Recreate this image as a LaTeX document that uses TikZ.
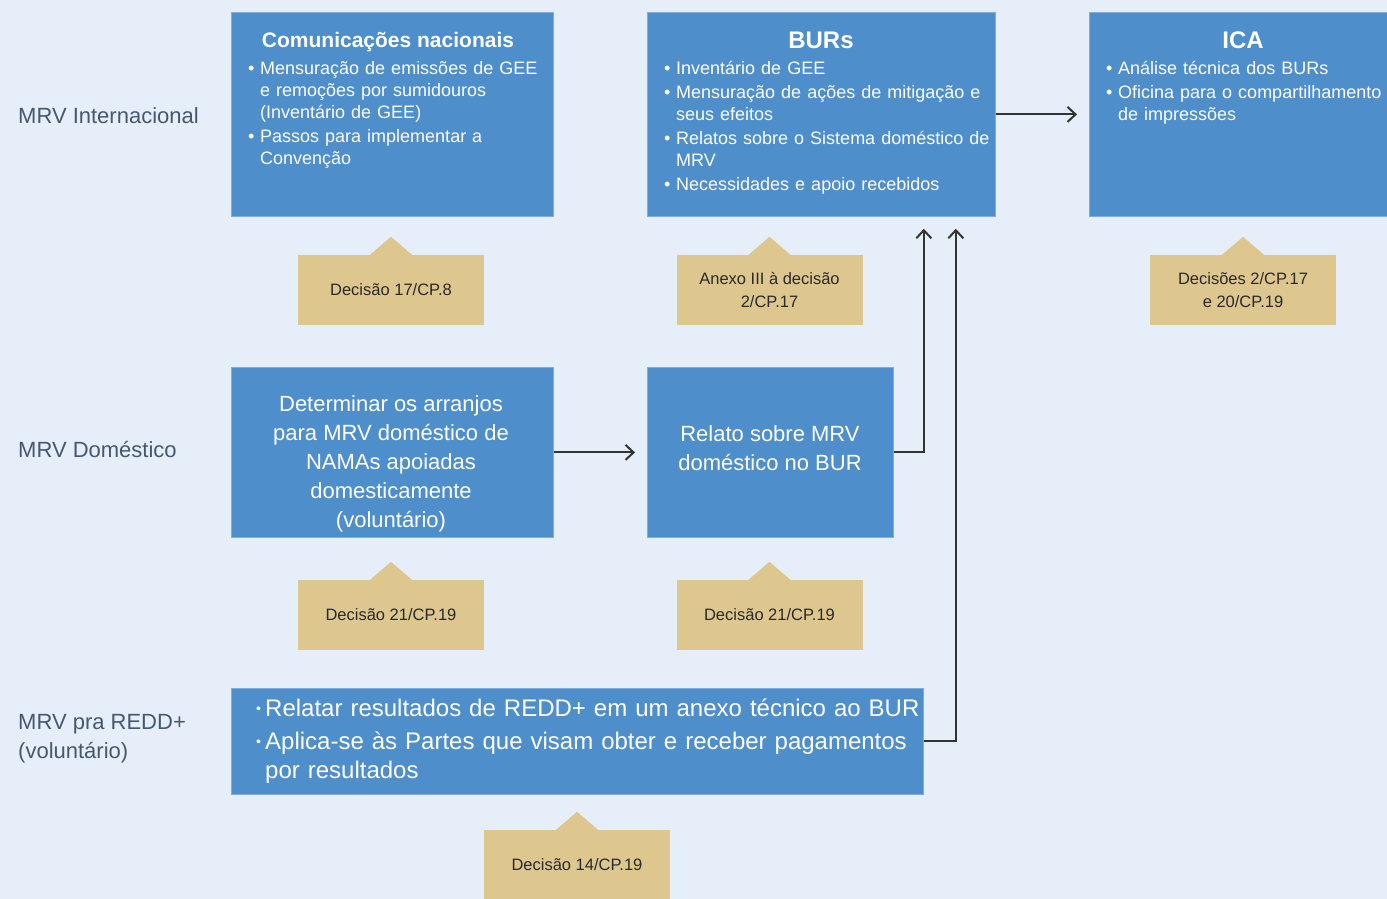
\documentclass[tikz,border=0pt]{standalone}
\usepackage{fontspec}
\setmainfont{Liberation Sans}
\usepackage{xcolor}
\usetikzlibrary{positioning,calc,arrows.meta}

\definecolor{bgblue}{HTML}{E6EFF9}
\definecolor{boxblue}{HTML}{4E8FCB}
\definecolor{boxedge}{HTML}{7FAEDD}
\definecolor{tagtan}{HTML}{DEC78F}
\definecolor{tagtext}{HTML}{2A2A2A}
\definecolor{lblcol}{HTML}{44586F}
\definecolor{linecol}{HTML}{333333}

% bullet item with hanging indent: width, bullet, text
\newcommand{\mkitem}[3]{\par\hangindent=#1\hangafter=1\noindent\makebox[#1][l]{#2}#3\par}
\newcommand{\itm}[1]{\mkitem{12pt}{\textbullet}{#1}}
\newcommand{\sitm}[1]{\mkitem{9pt}{\raisebox{0.25ex}{\fontsize{14}{14}\selectfont\textbullet}}{#1}}

\begin{document}
\begin{tikzpicture}[
    x=1pt,
    y=-1pt,
    >={Straight Barb[length=8pt,width=15pt]},
    box/.style={fill=boxblue, draw=boxedge, line width=0.8pt, inner sep=0pt, anchor=north west},
    title/.style={text=white, anchor=base, inner sep=0pt, font=\bfseries\fontsize{24}{28}\selectfont},
    bullets/.style={text=white, align=left, inner sep=0pt, anchor=north west,
        font=\fontsize{18}{22}\selectfont\setlength{\parskip}{2pt}},
    boxtext/.style={text=white, align=center, inner sep=0pt, font=\fontsize{22}{29}\selectfont},
    dectag/.style={fill=tagtan, minimum width=186pt, minimum height=70pt, inner sep=2pt,
        align=center, text=tagtext, font=\fontsize{16.5}{23}\selectfont},
    rowlabel/.style={align=left, inner sep=0pt, text=lblcol, font=\fontsize{22}{29}\selectfont},
    link/.style={->, line width=2pt, draw=linecol, shorten >=12pt}
]

% Page and background
\useasboundingbox (0,0) rectangle (1387,899);
\fill[bgblue] (0,0) rectangle (1387,899);

% Row labels
\node[rowlabel, anchor=west] (lint) at (18,116) {MRV Internacional};
\node[rowlabel, anchor=west] (ldom) at (18,450) {MRV Doméstico};
\node[rowlabel, anchor=north west] (lredd) at (18,714) {MRV pra REDD+\\(voluntário)};

% Row 1: international MRV
\node[box, minimum width=322pt, minimum height=204pt] (com) at (231,12) {};
\node[title, font=\bfseries\fontsize{21}{24}\selectfont] (comtitle) at (388,48) {Comunicações nacionais};
\node[bullets, text width=300pt] (comlist) at (248,50) {%
    \itm{Mensuração de emissões de GEE\newline e remoções por sumidouros\newline (Inventário de GEE)}
    \itm{Passos para implementar a\newline Convenção}};

\node[box, minimum width=348pt, minimum height=204pt] (burs) at (647,12) {};
\node[title] (burstitle) at (821,48.5) {BURs};
\node[bullets, text width=340pt] (burslist) at (664,50) {%
    \itm{Inventário de GEE}
    \itm{Mensuração de ações de mitigação e\newline seus efeitos}
    \itm{Relatos sobre o Sistema doméstico de\newline MRV}
    \itm{Necessidades e apoio recebidos}};

\node[box, minimum width=308pt, minimum height=204pt] (ica) at (1089,12) {};
\node[title] (icatitle) at (1243,48.5) {ICA};
\node[bullets, text width=290pt] (icalist) at (1106,50) {%
    \itm{Análise técnica dos BURs}
    \itm{Oficina para o compartilhamento\newline de impressões}};

% Row 2: domestic MRV
\node[box, minimum width=322pt, minimum height=170pt] (det) at (231,367) {};
\node[boxtext] (dettext) at (391,464) {Determinar os arranjos\\para MRV doméstico de\\NAMAs apoiadas\\domesticamente\\(voluntário)};

\node[box, minimum width=246pt, minimum height=170pt] (rel) at (647,367) {};
\node[boxtext] (reltext) at (770,448) {Relato sobre MRV\\doméstico no BUR};

% Row 3: REDD+
\node[box, minimum width=692pt, minimum height=106pt] (redd) at (231,688) {};
\node[bullets, text width=680pt, font=\fontsize{24}{29.5}\selectfont\setlength{\parskip}{3pt}] (reddlist) at (256,684) {%
    \sitm{Relatar resultados de REDD+ em um anexo técnico ao BUR}
    \sitm{Aplica-se às Partes que visam obter e receber pagamentos\newline por resultados}};

% Decision tags
\node[dectag] (dcom) at (391,290) {Decisão 17/CP.8};
\node[dectag] (dburs) at (769.5,290) {Anexo III à decisão\\2/CP.17};
\node[dectag] (dica) at (1243,290) {Decisões 2/CP.17\\e 20/CP.19};
\node[dectag] (ddet) at (391,615) {Decisão 21/CP.19};
\node[dectag] (drel) at (769.5,615) {Decisão 21/CP.19};
\node[dectag] (dredd) at (577,865) {Decisão 14/CP.19};
\foreach \t in {dcom,dburs,dica,ddet,drel,dredd}{
    \fill[tagtan] ([xshift=-21pt]\t.north) -- ([yshift=18pt]\t.north) -- ([xshift=21pt]\t.north) -- cycle;
}

% Connectors
\draw[link] (burs) -- (ica);
\draw[link] (det) -- (rel);
\draw[link] (rel.east) -| ([xshift=-72pt]burs.south east);
\draw[link] (redd.east) -| ([xshift=-40pt]burs.south east);

\end{tikzpicture}
\end{document}
